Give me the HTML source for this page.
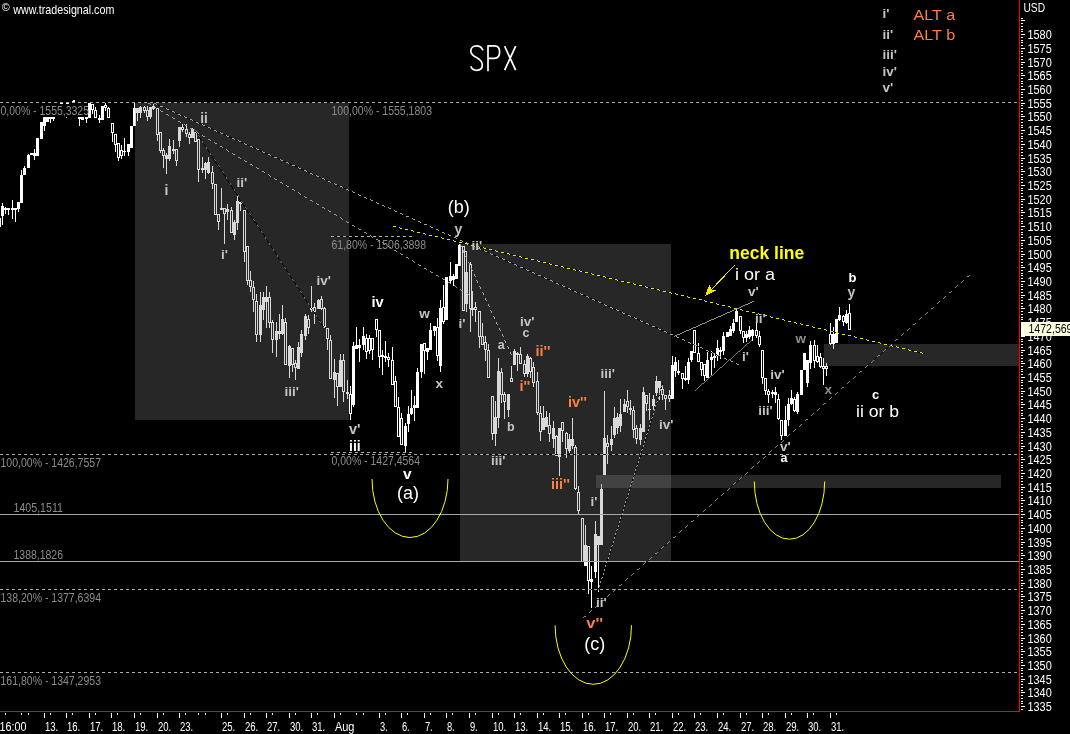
<!DOCTYPE html>
<html><head><meta charset="utf-8"><title>SPX</title>
<style>html,body{margin:0;padding:0;background:#000;overflow:hidden}svg{display:block;will-change:transform}text{font-family:"Liberation Sans", sans-serif}</style></head>
<body>
<svg width="1070" height="734" viewBox="0 0 1070 734">
<rect x="0" y="0" width="1070" height="734" fill="#000"/>
<g id="candles" shape-rendering="crispEdges">
<rect x="-2" y="218" width="3" height="9" fill="#fff"/>
<rect x="2" y="203" width="1" height="22" fill="#fff"/>
<rect x="1" y="206" width="3" height="10" fill="#fff"/>
<rect x="5" y="207" width="1" height="7" fill="#fff"/>
<rect x="4" y="208" width="3" height="2" fill="#fff"/>
<rect x="8" y="208" width="1" height="7" fill="#fff"/>
<rect x="7" y="208" width="3" height="2" fill="#fff"/>
<rect x="12" y="200" width="1" height="19" fill="#fff"/>
<rect x="11" y="208" width="3" height="2" fill="#fff"/>
<rect x="15" y="208" width="1" height="14" fill="#fff"/>
<rect x="14" y="208" width="3" height="2" fill="#fff"/>
<rect x="18" y="202" width="1" height="10" fill="#fff"/>
<rect x="17" y="202" width="3" height="7" fill="#fff"/>
<rect x="21" y="170" width="1" height="33" fill="#fff"/>
<rect x="20" y="175" width="3" height="28" fill="#fff"/>
<rect x="24" y="166" width="1" height="9" fill="#fff"/>
<rect x="23" y="168" width="3" height="7" fill="#fff"/>
<rect x="28" y="154" width="1" height="14" fill="#fff"/>
<rect x="27" y="155" width="3" height="13" fill="#fff"/>
<rect x="30" y="153" width="3" height="2" fill="#fff"/>
<rect x="34" y="149" width="1" height="11" fill="#fff"/>
<rect x="33" y="153" width="3" height="3" fill="#fff"/>
<rect x="36" y="138" width="3" height="18" fill="#fff"/>
<rect x="40" y="122" width="3" height="17" fill="#fff"/>
<rect x="44" y="117" width="1" height="14" fill="#fff"/>
<rect x="43" y="117" width="3" height="9" fill="#fff"/>
<rect x="46" y="117" width="3" height="5" fill="#fff"/>
<rect x="50" y="117" width="1" height="6" fill="#fff"/>
<rect x="49" y="117" width="3" height="2" fill="#fff"/>
<rect x="53" y="117" width="1" height="4" fill="#fff"/>
<rect x="52" y="117" width="3" height="2" fill="#fff"/>
<rect x="79" y="117" width="1" height="9" fill="#fff"/>
<rect x="78" y="117" width="3" height="2" fill="#fff"/>
<rect x="81" y="117" width="3" height="3" fill="#fff"/>
<rect x="86" y="117" width="1" height="6" fill="#fff"/>
<rect x="85" y="117" width="3" height="2" fill="#fff"/>
<rect x="88" y="103" width="3" height="15" fill="#fff"/>
<rect x="92" y="104" width="1" height="10" fill="#fff"/>
<rect x="91" y="104" width="3" height="6" fill="#fff"/>
<rect x="92" y="105" width="1" height="4" fill="#000"/>
<rect x="95" y="107" width="1" height="11" fill="#fff"/>
<rect x="94" y="110" width="3" height="8" fill="#fff"/>
<rect x="95" y="111" width="1" height="6" fill="#000"/>
<rect x="99" y="115" width="1" height="8" fill="#fff"/>
<rect x="98" y="118" width="3" height="2" fill="#fff"/>
<rect x="101" y="106" width="3" height="14" fill="#fff"/>
<rect x="105" y="103" width="1" height="8" fill="#fff"/>
<rect x="104" y="105" width="3" height="3" fill="#fff"/>
<rect x="105" y="106" width="1" height="1" fill="#000"/>
<rect x="108" y="107" width="1" height="11" fill="#fff"/>
<rect x="107" y="108" width="3" height="10" fill="#fff"/>
<rect x="108" y="109" width="1" height="8" fill="#000"/>
<rect x="112" y="123" width="1" height="19" fill="#fff"/>
<rect x="111" y="123" width="3" height="10" fill="#fff"/>
<rect x="112" y="124" width="1" height="8" fill="#000"/>
<rect x="115" y="134" width="1" height="18" fill="#fff"/>
<rect x="114" y="134" width="3" height="11" fill="#fff"/>
<rect x="115" y="135" width="1" height="9" fill="#000"/>
<rect x="118" y="143" width="1" height="18" fill="#fff"/>
<rect x="117" y="143" width="3" height="15" fill="#fff"/>
<rect x="118" y="144" width="1" height="13" fill="#000"/>
<rect x="121" y="145" width="1" height="14" fill="#fff"/>
<rect x="120" y="150" width="3" height="6" fill="#fff"/>
<rect x="121" y="151" width="1" height="4" fill="#000"/>
<rect x="124" y="138" width="1" height="18" fill="#fff"/>
<rect x="123" y="151" width="3" height="1" fill="#fff"/>
<rect x="128" y="144" width="1" height="12" fill="#fff"/>
<rect x="127" y="144" width="3" height="8" fill="#fff"/>
<rect x="130" y="126" width="3" height="22" fill="#fff"/>
<rect x="134" y="103" width="1" height="23" fill="#fff"/>
<rect x="133" y="108" width="3" height="18" fill="#fff"/>
<rect x="137" y="108" width="1" height="13" fill="#fff"/>
<rect x="136" y="108" width="3" height="5" fill="#fff"/>
<rect x="140" y="106" width="1" height="12" fill="#fff"/>
<rect x="139" y="107" width="3" height="6" fill="#fff"/>
<rect x="144" y="106" width="1" height="7" fill="#fff"/>
<rect x="143" y="107" width="3" height="4" fill="#fff"/>
<rect x="144" y="108" width="1" height="2" fill="#000"/>
<rect x="147" y="106" width="1" height="15" fill="#fff"/>
<rect x="146" y="110" width="3" height="7" fill="#fff"/>
<rect x="147" y="111" width="1" height="5" fill="#000"/>
<rect x="150" y="107" width="1" height="12" fill="#fff"/>
<rect x="149" y="107" width="3" height="10" fill="#fff"/>
<rect x="153" y="104" width="1" height="6" fill="#fff"/>
<rect x="152" y="106" width="3" height="3" fill="#fff"/>
<rect x="157" y="108" width="1" height="33" fill="#fff"/>
<rect x="156" y="108" width="3" height="27" fill="#fff"/>
<rect x="157" y="109" width="1" height="25" fill="#000"/>
<rect x="160" y="132" width="1" height="21" fill="#fff"/>
<rect x="159" y="132" width="3" height="19" fill="#fff"/>
<rect x="160" y="133" width="1" height="17" fill="#000"/>
<rect x="163" y="148" width="1" height="20" fill="#fff"/>
<rect x="162" y="150" width="3" height="6" fill="#fff"/>
<rect x="163" y="151" width="1" height="4" fill="#000"/>
<rect x="166" y="153" width="1" height="21" fill="#fff"/>
<rect x="165" y="155" width="3" height="4" fill="#fff"/>
<rect x="169" y="139" width="1" height="22" fill="#fff"/>
<rect x="168" y="146" width="3" height="13" fill="#fff"/>
<rect x="173" y="140" width="1" height="14" fill="#fff"/>
<rect x="172" y="149" width="3" height="2" fill="#fff"/>
<rect x="176" y="149" width="1" height="17" fill="#fff"/>
<rect x="175" y="149" width="3" height="12" fill="#fff"/>
<rect x="176" y="150" width="1" height="10" fill="#000"/>
<rect x="179" y="127" width="1" height="20" fill="#fff"/>
<rect x="178" y="127" width="3" height="14" fill="#fff"/>
<rect x="182" y="124" width="1" height="8" fill="#fff"/>
<rect x="181" y="127" width="3" height="3" fill="#fff"/>
<rect x="182" y="128" width="1" height="1" fill="#000"/>
<rect x="186" y="124" width="1" height="13" fill="#fff"/>
<rect x="185" y="129" width="3" height="5" fill="#fff"/>
<rect x="186" y="130" width="1" height="3" fill="#000"/>
<rect x="189" y="132" width="1" height="12" fill="#fff"/>
<rect x="188" y="134" width="3" height="4" fill="#fff"/>
<rect x="189" y="135" width="1" height="2" fill="#000"/>
<rect x="192" y="128" width="1" height="10" fill="#fff"/>
<rect x="191" y="129" width="3" height="9" fill="#fff"/>
<rect x="194" y="132" width="3" height="10" fill="#fff"/>
<rect x="195" y="133" width="1" height="8" fill="#000"/>
<rect x="198" y="139" width="1" height="43" fill="#fff"/>
<rect x="197" y="139" width="3" height="31" fill="#fff"/>
<rect x="198" y="140" width="1" height="29" fill="#000"/>
<rect x="202" y="157" width="1" height="16" fill="#fff"/>
<rect x="201" y="168" width="3" height="2" fill="#fff"/>
<rect x="205" y="162" width="1" height="17" fill="#fff"/>
<rect x="204" y="163" width="3" height="7" fill="#fff"/>
<rect x="208" y="157" width="1" height="17" fill="#fff"/>
<rect x="207" y="162" width="3" height="11" fill="#fff"/>
<rect x="212" y="166" width="1" height="23" fill="#fff"/>
<rect x="211" y="172" width="3" height="12" fill="#fff"/>
<rect x="212" y="173" width="1" height="10" fill="#000"/>
<rect x="214" y="184" width="3" height="31" fill="#fff"/>
<rect x="215" y="185" width="1" height="29" fill="#000"/>
<rect x="218" y="214" width="1" height="16" fill="#fff"/>
<rect x="217" y="214" width="3" height="8" fill="#fff"/>
<rect x="218" y="215" width="1" height="6" fill="#000"/>
<rect x="221" y="188" width="1" height="22" fill="#fff"/>
<rect x="220" y="208" width="3" height="2" fill="#fff"/>
<rect x="224" y="208" width="1" height="36" fill="#fff"/>
<rect x="223" y="208" width="3" height="6" fill="#fff"/>
<rect x="224" y="209" width="1" height="4" fill="#000"/>
<rect x="227" y="204" width="1" height="16" fill="#fff"/>
<rect x="226" y="209" width="3" height="3" fill="#fff"/>
<rect x="231" y="207" width="1" height="26" fill="#fff"/>
<rect x="230" y="210" width="3" height="23" fill="#fff"/>
<rect x="231" y="211" width="1" height="21" fill="#000"/>
<rect x="234" y="220" width="1" height="20" fill="#fff"/>
<rect x="233" y="222" width="3" height="13" fill="#fff"/>
<rect x="237" y="195" width="1" height="35" fill="#fff"/>
<rect x="236" y="201" width="3" height="22" fill="#fff"/>
<rect x="240" y="202" width="1" height="9" fill="#fff"/>
<rect x="239" y="202" width="3" height="2" fill="#fff"/>
<rect x="244" y="210" width="1" height="52" fill="#fff"/>
<rect x="243" y="210" width="3" height="42" fill="#fff"/>
<rect x="244" y="211" width="1" height="40" fill="#000"/>
<rect x="247" y="246" width="1" height="39" fill="#fff"/>
<rect x="246" y="246" width="3" height="35" fill="#fff"/>
<rect x="247" y="247" width="1" height="33" fill="#000"/>
<rect x="250" y="271" width="1" height="21" fill="#fff"/>
<rect x="249" y="280" width="3" height="7" fill="#fff"/>
<rect x="250" y="281" width="1" height="5" fill="#000"/>
<rect x="253" y="281" width="1" height="31" fill="#fff"/>
<rect x="252" y="287" width="3" height="13" fill="#fff"/>
<rect x="253" y="288" width="1" height="11" fill="#000"/>
<rect x="256" y="294" width="1" height="48" fill="#fff"/>
<rect x="255" y="301" width="3" height="34" fill="#fff"/>
<rect x="256" y="302" width="1" height="32" fill="#000"/>
<rect x="260" y="292" width="1" height="50" fill="#fff"/>
<rect x="259" y="305" width="3" height="30" fill="#fff"/>
<rect x="263" y="292" width="1" height="28" fill="#fff"/>
<rect x="262" y="297" width="3" height="13" fill="#fff"/>
<rect x="266" y="286" width="1" height="42" fill="#fff"/>
<rect x="265" y="297" width="3" height="5" fill="#fff"/>
<rect x="269" y="292" width="1" height="36" fill="#fff"/>
<rect x="268" y="297" width="3" height="26" fill="#fff"/>
<rect x="269" y="298" width="1" height="24" fill="#000"/>
<rect x="272" y="320" width="1" height="33" fill="#fff"/>
<rect x="271" y="322" width="3" height="18" fill="#fff"/>
<rect x="272" y="323" width="1" height="16" fill="#000"/>
<rect x="276" y="322" width="1" height="35" fill="#fff"/>
<rect x="275" y="331" width="3" height="9" fill="#fff"/>
<rect x="279" y="314" width="1" height="25" fill="#fff"/>
<rect x="278" y="331" width="3" height="3" fill="#fff"/>
<rect x="282" y="305" width="1" height="30" fill="#fff"/>
<rect x="281" y="319" width="3" height="15" fill="#fff"/>
<rect x="285" y="318" width="1" height="47" fill="#fff"/>
<rect x="284" y="322" width="3" height="43" fill="#fff"/>
<rect x="285" y="323" width="1" height="41" fill="#000"/>
<rect x="289" y="345" width="1" height="33" fill="#fff"/>
<rect x="288" y="346" width="3" height="20" fill="#fff"/>
<rect x="292" y="348" width="1" height="24" fill="#fff"/>
<rect x="291" y="348" width="3" height="17" fill="#fff"/>
<rect x="292" y="349" width="1" height="15" fill="#000"/>
<rect x="295" y="360" width="1" height="20" fill="#fff"/>
<rect x="294" y="363" width="3" height="5" fill="#fff"/>
<rect x="295" y="364" width="1" height="3" fill="#000"/>
<rect x="298" y="342" width="1" height="27" fill="#fff"/>
<rect x="297" y="347" width="3" height="22" fill="#fff"/>
<rect x="301" y="330" width="1" height="27" fill="#fff"/>
<rect x="300" y="334" width="3" height="19" fill="#fff"/>
<rect x="305" y="314" width="1" height="26" fill="#fff"/>
<rect x="304" y="316" width="3" height="20" fill="#fff"/>
<rect x="308" y="315" width="1" height="19" fill="#fff"/>
<rect x="307" y="319" width="3" height="9" fill="#fff"/>
<rect x="308" y="320" width="1" height="7" fill="#000"/>
<rect x="311" y="286" width="1" height="26" fill="#fff"/>
<rect x="310" y="308" width="3" height="2" fill="#fff"/>
<rect x="314" y="303" width="1" height="21" fill="#fff"/>
<rect x="313" y="307" width="3" height="5" fill="#fff"/>
<rect x="314" y="308" width="1" height="3" fill="#000"/>
<rect x="318" y="299" width="1" height="10" fill="#fff"/>
<rect x="317" y="300" width="3" height="9" fill="#fff"/>
<rect x="321" y="296" width="1" height="14" fill="#fff"/>
<rect x="320" y="299" width="3" height="10" fill="#fff"/>
<rect x="321" y="300" width="1" height="8" fill="#000"/>
<rect x="324" y="307" width="1" height="21" fill="#fff"/>
<rect x="323" y="308" width="3" height="19" fill="#fff"/>
<rect x="324" y="309" width="1" height="17" fill="#000"/>
<rect x="327" y="328" width="1" height="22" fill="#fff"/>
<rect x="326" y="328" width="3" height="11" fill="#fff"/>
<rect x="327" y="329" width="1" height="9" fill="#000"/>
<rect x="330" y="335" width="1" height="44" fill="#fff"/>
<rect x="329" y="340" width="3" height="39" fill="#fff"/>
<rect x="330" y="341" width="1" height="37" fill="#000"/>
<rect x="334" y="359" width="1" height="39" fill="#fff"/>
<rect x="333" y="372" width="3" height="8" fill="#fff"/>
<rect x="337" y="373" width="1" height="33" fill="#fff"/>
<rect x="336" y="373" width="3" height="14" fill="#fff"/>
<rect x="337" y="374" width="1" height="12" fill="#000"/>
<rect x="340" y="354" width="1" height="33" fill="#fff"/>
<rect x="339" y="360" width="3" height="27" fill="#fff"/>
<rect x="343" y="354" width="1" height="48" fill="#fff"/>
<rect x="342" y="360" width="3" height="32" fill="#fff"/>
<rect x="343" y="361" width="1" height="30" fill="#000"/>
<rect x="347" y="380" width="1" height="19" fill="#fff"/>
<rect x="346" y="392" width="3" height="2" fill="#fff"/>
<rect x="350" y="386" width="1" height="34" fill="#fff"/>
<rect x="349" y="394" width="3" height="20" fill="#fff"/>
<rect x="350" y="395" width="1" height="18" fill="#000"/>
<rect x="353" y="342" width="1" height="65" fill="#fff"/>
<rect x="352" y="346" width="3" height="59" fill="#fff"/>
<rect x="356" y="327" width="1" height="22" fill="#fff"/>
<rect x="355" y="345" width="3" height="4" fill="#fff"/>
<rect x="359" y="339" width="1" height="23" fill="#fff"/>
<rect x="358" y="345" width="3" height="3" fill="#fff"/>
<rect x="363" y="327" width="1" height="23" fill="#fff"/>
<rect x="362" y="336" width="3" height="9" fill="#fff"/>
<rect x="366" y="334" width="1" height="25" fill="#fff"/>
<rect x="365" y="338" width="3" height="14" fill="#fff"/>
<rect x="366" y="339" width="1" height="12" fill="#000"/>
<rect x="369" y="335" width="1" height="19" fill="#fff"/>
<rect x="368" y="338" width="3" height="13" fill="#fff"/>
<rect x="369" y="339" width="1" height="11" fill="#000"/>
<rect x="372" y="338" width="1" height="22" fill="#fff"/>
<rect x="371" y="338" width="3" height="12" fill="#fff"/>
<rect x="372" y="339" width="1" height="10" fill="#000"/>
<rect x="376" y="319" width="1" height="18" fill="#fff"/>
<rect x="375" y="319" width="3" height="11" fill="#fff"/>
<rect x="376" y="320" width="1" height="9" fill="#000"/>
<rect x="379" y="330" width="1" height="38" fill="#fff"/>
<rect x="378" y="330" width="3" height="27" fill="#fff"/>
<rect x="379" y="331" width="1" height="25" fill="#000"/>
<rect x="382" y="350" width="1" height="25" fill="#fff"/>
<rect x="381" y="355" width="3" height="2" fill="#fff"/>
<rect x="385" y="341" width="1" height="21" fill="#fff"/>
<rect x="384" y="356" width="3" height="2" fill="#fff"/>
<rect x="388" y="353" width="1" height="14" fill="#fff"/>
<rect x="387" y="357" width="3" height="3" fill="#fff"/>
<rect x="388" y="358" width="1" height="1" fill="#000"/>
<rect x="392" y="347" width="1" height="38" fill="#fff"/>
<rect x="391" y="360" width="3" height="25" fill="#fff"/>
<rect x="392" y="361" width="1" height="23" fill="#000"/>
<rect x="395" y="376" width="1" height="31" fill="#fff"/>
<rect x="394" y="381" width="3" height="26" fill="#fff"/>
<rect x="395" y="382" width="1" height="24" fill="#000"/>
<rect x="398" y="397" width="1" height="40" fill="#fff"/>
<rect x="397" y="407" width="3" height="30" fill="#fff"/>
<rect x="398" y="408" width="1" height="28" fill="#000"/>
<rect x="401" y="413" width="1" height="32" fill="#fff"/>
<rect x="400" y="418" width="3" height="27" fill="#fff"/>
<rect x="401" y="419" width="1" height="25" fill="#000"/>
<rect x="405" y="423" width="1" height="30" fill="#fff"/>
<rect x="404" y="426" width="3" height="20" fill="#fff"/>
<rect x="408" y="406" width="1" height="26" fill="#fff"/>
<rect x="407" y="414" width="3" height="10" fill="#fff"/>
<rect x="411" y="390" width="1" height="25" fill="#fff"/>
<rect x="410" y="408" width="3" height="6" fill="#fff"/>
<rect x="414" y="396" width="1" height="25" fill="#fff"/>
<rect x="413" y="405" width="3" height="3" fill="#fff"/>
<rect x="417" y="368" width="1" height="40" fill="#fff"/>
<rect x="416" y="372" width="3" height="36" fill="#fff"/>
<rect x="421" y="344" width="1" height="34" fill="#fff"/>
<rect x="420" y="344" width="3" height="28" fill="#fff"/>
<rect x="424" y="343" width="1" height="31" fill="#fff"/>
<rect x="423" y="343" width="3" height="8" fill="#fff"/>
<rect x="424" y="344" width="1" height="6" fill="#000"/>
<rect x="427" y="348" width="1" height="12" fill="#fff"/>
<rect x="426" y="348" width="3" height="4" fill="#fff"/>
<rect x="430" y="323" width="1" height="27" fill="#fff"/>
<rect x="429" y="330" width="3" height="20" fill="#fff"/>
<rect x="434" y="326" width="1" height="10" fill="#fff"/>
<rect x="433" y="326" width="3" height="5" fill="#fff"/>
<rect x="437" y="318" width="1" height="43" fill="#fff"/>
<rect x="436" y="327" width="3" height="29" fill="#fff"/>
<rect x="437" y="328" width="1" height="27" fill="#000"/>
<rect x="440" y="300" width="1" height="72" fill="#fff"/>
<rect x="439" y="308" width="3" height="58" fill="#fff"/>
<rect x="443" y="285" width="1" height="39" fill="#fff"/>
<rect x="442" y="307" width="3" height="15" fill="#fff"/>
<rect x="443" y="308" width="1" height="13" fill="#000"/>
<rect x="445" y="277" width="3" height="43" fill="#fff"/>
<rect x="450" y="262" width="1" height="22" fill="#fff"/>
<rect x="449" y="276" width="3" height="5" fill="#fff"/>
<rect x="453" y="274" width="1" height="12" fill="#fff"/>
<rect x="452" y="276" width="3" height="4" fill="#fff"/>
<rect x="455" y="264" width="3" height="15" fill="#fff"/>
<rect x="459" y="244" width="1" height="22" fill="#fff"/>
<rect x="458" y="245" width="3" height="21" fill="#fff"/>
<rect x="462" y="246" width="3" height="65" fill="#fff"/>
<rect x="463" y="247" width="1" height="63" fill="#000"/>
<rect x="466" y="251" width="1" height="61" fill="#fff"/>
<rect x="465" y="272" width="3" height="32" fill="#fff"/>
<rect x="464" y="251" width="3" height="22" fill="#fff"/>
<rect x="465" y="252" width="1" height="20" fill="#000"/>
<rect x="470" y="262" width="1" height="70" fill="#fff"/>
<rect x="469" y="264" width="3" height="45" fill="#fff"/>
<rect x="470" y="265" width="1" height="43" fill="#000"/>
<rect x="472" y="291" width="1" height="25" fill="#fff"/>
<rect x="471" y="308" width="3" height="2" fill="#fff"/>
<rect x="475" y="302" width="1" height="20" fill="#fff"/>
<rect x="474" y="307" width="3" height="3" fill="#fff"/>
<rect x="475" y="308" width="1" height="1" fill="#000"/>
<rect x="479" y="311" width="1" height="37" fill="#fff"/>
<rect x="478" y="311" width="3" height="26" fill="#fff"/>
<rect x="479" y="312" width="1" height="24" fill="#000"/>
<rect x="482" y="323" width="1" height="22" fill="#fff"/>
<rect x="481" y="336" width="3" height="9" fill="#fff"/>
<rect x="482" y="337" width="1" height="7" fill="#000"/>
<rect x="485" y="336" width="1" height="25" fill="#fff"/>
<rect x="484" y="342" width="3" height="8" fill="#fff"/>
<rect x="485" y="343" width="1" height="6" fill="#000"/>
<rect x="488" y="344" width="1" height="34" fill="#fff"/>
<rect x="487" y="350" width="3" height="28" fill="#fff"/>
<rect x="488" y="351" width="1" height="26" fill="#000"/>
<rect x="492" y="396" width="1" height="44" fill="#fff"/>
<rect x="491" y="396" width="3" height="38" fill="#fff"/>
<rect x="492" y="397" width="1" height="36" fill="#000"/>
<rect x="495" y="401" width="1" height="45" fill="#fff"/>
<rect x="494" y="417" width="3" height="17" fill="#fff"/>
<rect x="498" y="358" width="1" height="70" fill="#fff"/>
<rect x="497" y="371" width="3" height="47" fill="#fff"/>
<rect x="501" y="368" width="1" height="35" fill="#fff"/>
<rect x="500" y="372" width="3" height="23" fill="#fff"/>
<rect x="501" y="373" width="1" height="21" fill="#000"/>
<rect x="504" y="392" width="1" height="27" fill="#fff"/>
<rect x="503" y="394" width="3" height="8" fill="#fff"/>
<rect x="504" y="395" width="1" height="6" fill="#000"/>
<rect x="508" y="394" width="1" height="23" fill="#fff"/>
<rect x="507" y="394" width="3" height="16" fill="#fff"/>
<rect x="511" y="366" width="1" height="16" fill="#fff"/>
<rect x="510" y="378" width="3" height="4" fill="#fff"/>
<rect x="511" y="379" width="1" height="2" fill="#000"/>
<rect x="514" y="349" width="1" height="16" fill="#fff"/>
<rect x="513" y="351" width="3" height="14" fill="#fff"/>
<rect x="517" y="352" width="1" height="19" fill="#fff"/>
<rect x="516" y="353" width="3" height="2" fill="#fff"/>
<rect x="520" y="347" width="1" height="17" fill="#fff"/>
<rect x="519" y="354" width="3" height="10" fill="#fff"/>
<rect x="520" y="355" width="1" height="8" fill="#000"/>
<rect x="524" y="360" width="1" height="17" fill="#fff"/>
<rect x="523" y="364" width="3" height="10" fill="#fff"/>
<rect x="524" y="365" width="1" height="8" fill="#000"/>
<rect x="527" y="354" width="1" height="23" fill="#fff"/>
<rect x="526" y="356" width="3" height="18" fill="#fff"/>
<rect x="530" y="357" width="1" height="21" fill="#fff"/>
<rect x="529" y="358" width="3" height="14" fill="#fff"/>
<rect x="530" y="359" width="1" height="12" fill="#000"/>
<rect x="533" y="362" width="1" height="25" fill="#fff"/>
<rect x="532" y="367" width="3" height="16" fill="#fff"/>
<rect x="533" y="368" width="1" height="14" fill="#000"/>
<rect x="537" y="372" width="1" height="43" fill="#fff"/>
<rect x="536" y="381" width="3" height="32" fill="#fff"/>
<rect x="537" y="382" width="1" height="30" fill="#000"/>
<rect x="540" y="406" width="1" height="35" fill="#fff"/>
<rect x="539" y="413" width="3" height="19" fill="#fff"/>
<rect x="540" y="414" width="1" height="17" fill="#000"/>
<rect x="543" y="406" width="1" height="24" fill="#fff"/>
<rect x="542" y="418" width="3" height="12" fill="#fff"/>
<rect x="546" y="411" width="1" height="16" fill="#fff"/>
<rect x="545" y="417" width="3" height="10" fill="#fff"/>
<rect x="549" y="413" width="1" height="29" fill="#fff"/>
<rect x="548" y="425" width="3" height="9" fill="#fff"/>
<rect x="549" y="426" width="1" height="7" fill="#000"/>
<rect x="553" y="421" width="1" height="27" fill="#fff"/>
<rect x="552" y="428" width="3" height="11" fill="#fff"/>
<rect x="556" y="435" width="1" height="21" fill="#fff"/>
<rect x="555" y="436" width="3" height="20" fill="#fff"/>
<rect x="556" y="437" width="1" height="18" fill="#000"/>
<rect x="559" y="428" width="1" height="48" fill="#fff"/>
<rect x="558" y="428" width="3" height="29" fill="#fff"/>
<rect x="562" y="422" width="1" height="20" fill="#fff"/>
<rect x="561" y="422" width="3" height="9" fill="#fff"/>
<rect x="562" y="423" width="1" height="7" fill="#000"/>
<rect x="566" y="432" width="1" height="26" fill="#fff"/>
<rect x="565" y="433" width="3" height="16" fill="#fff"/>
<rect x="566" y="434" width="1" height="14" fill="#000"/>
<rect x="569" y="434" width="1" height="19" fill="#fff"/>
<rect x="568" y="439" width="3" height="12" fill="#fff"/>
<rect x="572" y="418" width="1" height="31" fill="#fff"/>
<rect x="571" y="439" width="3" height="7" fill="#fff"/>
<rect x="575" y="445" width="1" height="45" fill="#fff"/>
<rect x="574" y="447" width="3" height="42" fill="#fff"/>
<rect x="575" y="448" width="1" height="40" fill="#000"/>
<rect x="578" y="486" width="1" height="28" fill="#fff"/>
<rect x="577" y="492" width="3" height="19" fill="#fff"/>
<rect x="578" y="493" width="1" height="17" fill="#000"/>
<rect x="581" y="518" width="3" height="44" fill="#fff"/>
<rect x="582" y="519" width="1" height="42" fill="#000"/>
<rect x="585" y="525" width="1" height="41" fill="#fff"/>
<rect x="584" y="545" width="3" height="21" fill="#fff"/>
<rect x="588" y="546" width="1" height="48" fill="#fff"/>
<rect x="587" y="546" width="3" height="35" fill="#fff"/>
<rect x="588" y="547" width="1" height="33" fill="#000"/>
<rect x="591" y="566" width="1" height="42" fill="#fff"/>
<rect x="590" y="579" width="3" height="3" fill="#fff"/>
<rect x="595" y="521" width="1" height="57" fill="#fff"/>
<rect x="594" y="534" width="3" height="38" fill="#fff"/>
<rect x="598" y="536" width="1" height="56" fill="#fff"/>
<rect x="597" y="536" width="3" height="9" fill="#fff"/>
<rect x="601" y="484" width="1" height="61" fill="#fff"/>
<rect x="600" y="489" width="3" height="56" fill="#fff"/>
<rect x="604" y="391" width="1" height="84" fill="#fff"/>
<rect x="603" y="438" width="3" height="37" fill="#fff"/>
<rect x="607" y="435" width="1" height="29" fill="#fff"/>
<rect x="606" y="443" width="3" height="4" fill="#fff"/>
<rect x="607" y="444" width="1" height="2" fill="#000"/>
<rect x="611" y="426" width="1" height="25" fill="#fff"/>
<rect x="610" y="439" width="3" height="6" fill="#fff"/>
<rect x="614" y="407" width="1" height="31" fill="#fff"/>
<rect x="613" y="418" width="3" height="17" fill="#fff"/>
<rect x="617" y="413" width="1" height="21" fill="#fff"/>
<rect x="616" y="417" width="3" height="11" fill="#fff"/>
<rect x="620" y="399" width="1" height="33" fill="#fff"/>
<rect x="619" y="414" width="3" height="12" fill="#fff"/>
<rect x="624" y="399" width="1" height="13" fill="#fff"/>
<rect x="623" y="404" width="3" height="8" fill="#fff"/>
<rect x="627" y="390" width="1" height="23" fill="#fff"/>
<rect x="626" y="401" width="3" height="6" fill="#fff"/>
<rect x="627" y="402" width="1" height="4" fill="#000"/>
<rect x="630" y="400" width="1" height="15" fill="#fff"/>
<rect x="629" y="408" width="3" height="2" fill="#fff"/>
<rect x="633" y="406" width="1" height="32" fill="#fff"/>
<rect x="632" y="410" width="3" height="20" fill="#fff"/>
<rect x="633" y="411" width="1" height="18" fill="#000"/>
<rect x="636" y="425" width="1" height="19" fill="#fff"/>
<rect x="635" y="428" width="3" height="11" fill="#fff"/>
<rect x="636" y="429" width="1" height="9" fill="#000"/>
<rect x="640" y="424" width="1" height="21" fill="#fff"/>
<rect x="639" y="428" width="3" height="12" fill="#fff"/>
<rect x="643" y="387" width="1" height="45" fill="#fff"/>
<rect x="642" y="392" width="3" height="40" fill="#fff"/>
<rect x="646" y="395" width="1" height="16" fill="#fff"/>
<rect x="645" y="395" width="3" height="9" fill="#fff"/>
<rect x="646" y="396" width="1" height="7" fill="#000"/>
<rect x="649" y="393" width="1" height="27" fill="#fff"/>
<rect x="648" y="409" width="3" height="1" fill="#fff"/>
<rect x="653" y="395" width="1" height="15" fill="#fff"/>
<rect x="652" y="399" width="3" height="7" fill="#fff"/>
<rect x="656" y="376" width="1" height="20" fill="#fff"/>
<rect x="655" y="381" width="3" height="12" fill="#fff"/>
<rect x="659" y="381" width="1" height="19" fill="#fff"/>
<rect x="658" y="381" width="3" height="7" fill="#fff"/>
<rect x="662" y="384" width="1" height="16" fill="#fff"/>
<rect x="661" y="389" width="3" height="6" fill="#fff"/>
<rect x="662" y="390" width="1" height="4" fill="#000"/>
<rect x="665" y="395" width="1" height="15" fill="#fff"/>
<rect x="664" y="395" width="3" height="4" fill="#fff"/>
<rect x="665" y="396" width="1" height="2" fill="#000"/>
<rect x="669" y="390" width="1" height="12" fill="#fff"/>
<rect x="668" y="395" width="3" height="4" fill="#fff"/>
<rect x="669" y="396" width="1" height="2" fill="#000"/>
<rect x="672" y="356" width="1" height="43" fill="#fff"/>
<rect x="671" y="365" width="3" height="34" fill="#fff"/>
<rect x="675" y="357" width="1" height="20" fill="#fff"/>
<rect x="674" y="362" width="3" height="9" fill="#fff"/>
<rect x="678" y="360" width="1" height="15" fill="#fff"/>
<rect x="677" y="371" width="3" height="2" fill="#fff"/>
<rect x="682" y="373" width="1" height="16" fill="#fff"/>
<rect x="681" y="373" width="3" height="6" fill="#fff"/>
<rect x="682" y="374" width="1" height="4" fill="#000"/>
<rect x="685" y="366" width="1" height="15" fill="#fff"/>
<rect x="684" y="378" width="3" height="2" fill="#fff"/>
<rect x="688" y="358" width="1" height="26" fill="#fff"/>
<rect x="687" y="362" width="3" height="18" fill="#fff"/>
<rect x="691" y="351" width="1" height="11" fill="#fff"/>
<rect x="690" y="351" width="3" height="9" fill="#fff"/>
<rect x="693" y="330" width="3" height="23" fill="#fff"/>
<rect x="694" y="331" width="1" height="21" fill="#000"/>
<rect x="698" y="343" width="1" height="19" fill="#fff"/>
<rect x="697" y="353" width="3" height="9" fill="#fff"/>
<rect x="698" y="354" width="1" height="7" fill="#000"/>
<rect x="701" y="362" width="1" height="14" fill="#fff"/>
<rect x="700" y="362" width="3" height="8" fill="#fff"/>
<rect x="701" y="363" width="1" height="6" fill="#000"/>
<rect x="704" y="364" width="1" height="17" fill="#fff"/>
<rect x="703" y="364" width="3" height="12" fill="#fff"/>
<rect x="704" y="365" width="1" height="10" fill="#000"/>
<rect x="707" y="352" width="1" height="26" fill="#fff"/>
<rect x="706" y="360" width="3" height="18" fill="#fff"/>
<rect x="711" y="351" width="1" height="24" fill="#fff"/>
<rect x="710" y="357" width="3" height="3" fill="#fff"/>
<rect x="714" y="354" width="1" height="14" fill="#fff"/>
<rect x="713" y="356" width="3" height="2" fill="#fff"/>
<rect x="717" y="340" width="1" height="21" fill="#fff"/>
<rect x="716" y="348" width="3" height="8" fill="#fff"/>
<rect x="720" y="347" width="1" height="12" fill="#fff"/>
<rect x="719" y="350" width="3" height="2" fill="#fff"/>
<rect x="723" y="332" width="1" height="23" fill="#fff"/>
<rect x="722" y="336" width="3" height="15" fill="#fff"/>
<rect x="726" y="332" width="3" height="5" fill="#fff"/>
<rect x="730" y="326" width="1" height="10" fill="#fff"/>
<rect x="729" y="329" width="3" height="7" fill="#fff"/>
<rect x="733" y="319" width="1" height="14" fill="#fff"/>
<rect x="732" y="323" width="3" height="8" fill="#fff"/>
<rect x="736" y="309" width="1" height="13" fill="#fff"/>
<rect x="735" y="311" width="3" height="11" fill="#fff"/>
<rect x="740" y="316" width="1" height="18" fill="#fff"/>
<rect x="739" y="316" width="3" height="15" fill="#fff"/>
<rect x="740" y="317" width="1" height="13" fill="#000"/>
<rect x="743" y="331" width="1" height="12" fill="#fff"/>
<rect x="742" y="331" width="3" height="7" fill="#fff"/>
<rect x="743" y="332" width="1" height="5" fill="#000"/>
<rect x="746" y="331" width="1" height="11" fill="#fff"/>
<rect x="745" y="334" width="3" height="4" fill="#fff"/>
<rect x="749" y="326" width="1" height="13" fill="#fff"/>
<rect x="748" y="330" width="3" height="7" fill="#fff"/>
<rect x="752" y="329" width="1" height="12" fill="#fff"/>
<rect x="751" y="330" width="3" height="6" fill="#fff"/>
<rect x="756" y="316" width="1" height="22" fill="#fff"/>
<rect x="755" y="330" width="3" height="6" fill="#fff"/>
<rect x="756" y="331" width="1" height="4" fill="#000"/>
<rect x="759" y="331" width="1" height="16" fill="#fff"/>
<rect x="758" y="336" width="3" height="9" fill="#fff"/>
<rect x="759" y="337" width="1" height="7" fill="#000"/>
<rect x="762" y="350" width="1" height="34" fill="#fff"/>
<rect x="761" y="350" width="3" height="28" fill="#fff"/>
<rect x="762" y="351" width="1" height="26" fill="#000"/>
<rect x="765" y="378" width="1" height="17" fill="#fff"/>
<rect x="764" y="378" width="3" height="13" fill="#fff"/>
<rect x="765" y="379" width="1" height="11" fill="#000"/>
<rect x="768" y="389" width="1" height="14" fill="#fff"/>
<rect x="767" y="391" width="3" height="4" fill="#fff"/>
<rect x="768" y="392" width="1" height="2" fill="#000"/>
<rect x="772" y="390" width="1" height="8" fill="#fff"/>
<rect x="771" y="392" width="3" height="2" fill="#fff"/>
<rect x="775" y="387" width="1" height="16" fill="#fff"/>
<rect x="774" y="392" width="3" height="3" fill="#fff"/>
<rect x="778" y="394" width="1" height="26" fill="#fff"/>
<rect x="777" y="399" width="3" height="20" fill="#fff"/>
<rect x="778" y="400" width="1" height="18" fill="#000"/>
<rect x="781" y="420" width="1" height="20" fill="#fff"/>
<rect x="780" y="420" width="3" height="16" fill="#fff"/>
<rect x="781" y="421" width="1" height="14" fill="#000"/>
<rect x="785" y="406" width="1" height="30" fill="#fff"/>
<rect x="784" y="420" width="3" height="16" fill="#fff"/>
<rect x="788" y="398" width="1" height="28" fill="#fff"/>
<rect x="787" y="404" width="3" height="16" fill="#fff"/>
<rect x="791" y="390" width="1" height="15" fill="#fff"/>
<rect x="790" y="398" width="3" height="6" fill="#fff"/>
<rect x="794" y="397" width="1" height="15" fill="#fff"/>
<rect x="793" y="399" width="3" height="12" fill="#fff"/>
<rect x="794" y="400" width="1" height="10" fill="#000"/>
<rect x="797" y="392" width="1" height="22" fill="#fff"/>
<rect x="796" y="394" width="3" height="18" fill="#fff"/>
<rect x="800" y="370" width="3" height="25" fill="#fff"/>
<rect x="803" y="353" width="3" height="17" fill="#fff"/>
<rect x="807" y="360" width="1" height="27" fill="#fff"/>
<rect x="806" y="360" width="3" height="23" fill="#fff"/>
<rect x="810" y="341" width="1" height="28" fill="#fff"/>
<rect x="809" y="345" width="3" height="18" fill="#fff"/>
<rect x="814" y="340" width="1" height="28" fill="#fff"/>
<rect x="813" y="345" width="3" height="16" fill="#fff"/>
<rect x="814" y="346" width="1" height="14" fill="#000"/>
<rect x="817" y="345" width="1" height="18" fill="#fff"/>
<rect x="816" y="356" width="3" height="6" fill="#fff"/>
<rect x="817" y="357" width="1" height="4" fill="#000"/>
<rect x="820" y="353" width="1" height="15" fill="#fff"/>
<rect x="819" y="357" width="3" height="10" fill="#fff"/>
<rect x="820" y="358" width="1" height="8" fill="#000"/>
<rect x="823" y="358" width="1" height="27" fill="#fff"/>
<rect x="822" y="366" width="3" height="3" fill="#fff"/>
<rect x="823" y="367" width="1" height="1" fill="#000"/>
<rect x="826" y="363" width="1" height="13" fill="#fff"/>
<rect x="825" y="366" width="3" height="3" fill="#fff"/>
<rect x="826" y="367" width="1" height="1" fill="#000"/>
<rect x="830" y="323" width="1" height="22" fill="#fff"/>
<rect x="829" y="334" width="3" height="10" fill="#fff"/>
<rect x="830" y="335" width="1" height="8" fill="#000"/>
<rect x="833" y="327" width="1" height="22" fill="#fff"/>
<rect x="832" y="334" width="3" height="10" fill="#fff"/>
<rect x="835" y="319" width="3" height="24" fill="#fff"/>
<rect x="839" y="307" width="1" height="14" fill="#fff"/>
<rect x="838" y="315" width="3" height="5" fill="#fff"/>
<rect x="843" y="315" width="1" height="11" fill="#fff"/>
<rect x="842" y="316" width="3" height="6" fill="#fff"/>
<rect x="843" y="317" width="1" height="4" fill="#000"/>
<rect x="846" y="310" width="1" height="14" fill="#fff"/>
<rect x="845" y="314" width="3" height="9" fill="#fff"/>
<rect x="849" y="304" width="1" height="26" fill="#fff"/>
<rect x="848" y="313" width="3" height="17" fill="#fff"/>
<rect x="849" y="314" width="1" height="15" fill="#000"/>
<path d="M60 103 H62 V102 H66 V103 H69 M69 102 H72 V101 H73 V100 H74 V102 H75" fill="none" stroke="#fff" stroke-width="1"/>
<rect x="66" y="117" width="1" height="1" fill="#fff"/>
</g>
<g id="boxes" shape-rendering="crispEdges">
<rect x="135" y="103" width="214" height="317" fill="rgb(128,128,128)" fill-opacity="0.30"/>
<rect x="460" y="244" width="211" height="317" fill="rgb(128,128,128)" fill-opacity="0.30"/>
<rect x="824" y="344" width="195" height="22" fill="rgb(128,128,128)" fill-opacity="0.30"/>
<rect x="596" y="475" width="405" height="13" fill="rgb(128,128,128)" fill-opacity="0.30"/>
</g>
<g id="levels" shape-rendering="crispEdges" fill="none">
<line x1="0" y1="102.5" x2="1019" y2="102.5" stroke="#000" stroke-width="1"/>
<line x1="0" y1="102.5" x2="1019" y2="102.5" stroke="#acacac" stroke-width="1" stroke-dasharray="3 3"/>
<line x1="0" y1="454.5" x2="1019" y2="454.5" stroke="#000" stroke-width="1"/>
<line x1="0" y1="454.5" x2="1019" y2="454.5" stroke="#acacac" stroke-width="1" stroke-dasharray="3 3"/>
<line x1="0" y1="589.5" x2="1019" y2="589.5" stroke="#000" stroke-width="1"/>
<line x1="0" y1="589.5" x2="1019" y2="589.5" stroke="#acacac" stroke-width="1" stroke-dasharray="3 3"/>
<line x1="0" y1="672.5" x2="1019" y2="672.5" stroke="#000" stroke-width="1"/>
<line x1="0" y1="672.5" x2="1019" y2="672.5" stroke="#acacac" stroke-width="1" stroke-dasharray="3 3"/>
<line x1="331" y1="236.5" x2="412" y2="236.5" stroke="#000" stroke-width="1"/>
<line x1="331" y1="236.5" x2="412" y2="236.5" stroke="#acacac" stroke-width="1" stroke-dasharray="3 3"/>
<line x1="331" y1="452.5" x2="412" y2="452.5" stroke="#000" stroke-width="1"/>
<line x1="331" y1="452.5" x2="412" y2="452.5" stroke="#acacac" stroke-width="1" stroke-dasharray="3 3"/>
<line x1="0" y1="514.5" x2="1019" y2="514.5" stroke="#a8a8a8" stroke-width="1"/>
<line x1="0" y1="561.5" x2="1019" y2="561.5" stroke="#a8a8a8" stroke-width="1"/>
</g>
<g id="trend" fill="none" shape-rendering="crispEdges">
<line x1="153.6" y1="103.0" x2="739.0" y2="364.7" stroke="#000" stroke-width="0.913"/>
<line x1="153.6" y1="103.0" x2="739.0" y2="364.7" stroke="#b0b0b0" stroke-width="0.913" stroke-dasharray="3.29 3.29"/>
<line x1="148.0" y1="103.0" x2="472.0" y2="296.4" stroke="#b0b0b0" stroke-width="0.859" stroke-dasharray="3.49 3.49"/>
<line x1="194.5" y1="128.5" x2="324.0" y2="327.8" stroke="#000" stroke-width="0.839"/>
<line x1="194.5" y1="128.5" x2="324.0" y2="327.8" stroke="#7a7a7a" stroke-width="0.839" stroke-dasharray="2.39 4.77"/>
<line x1="460.0" y1="244.0" x2="513.0" y2="358.0" stroke="#b0b0b0" stroke-width="0.907" stroke-dasharray="3.31 3.31"/>
<line x1="393.0" y1="226.3" x2="925.0" y2="353.8" stroke="#000" stroke-width="0.972"/>
<line x1="393.0" y1="226.3" x2="925.0" y2="353.8" stroke="#f0e800" stroke-width="0.972" stroke-dasharray="3.08 3.08"/>
<line x1="598.0" y1="591.0" x2="663.0" y2="383.0" stroke="#000" stroke-width="0.954"/>
<line x1="598.0" y1="591.0" x2="663.0" y2="383.0" stroke="#9a9a9a" stroke-width="0.954" stroke-dasharray="2.10 2.10"/>
<line x1="583.0" y1="618.3" x2="972.0" y2="273.0" stroke="#000" stroke-width="0.748"/>
<line x1="583.0" y1="618.3" x2="972.0" y2="273.0" stroke="#b0b0b0" stroke-width="0.748" stroke-dasharray="4.01 4.01"/>
<line x1="673.6" y1="336.7" x2="753.7" y2="301.4" stroke="#a0a0a0" stroke-width="0.915"/>
<line x1="695.2" y1="390.5" x2="752.4" y2="339.6" stroke="#a0a0a0" stroke-width="0.747"/>
</g>
<g id="arcs" fill="none" stroke="#ffff00" stroke-width="1">
<path d="M372.0 479.0 A38.0 58.5 0 0 0 448.0 479.0"/>
<path d="M555.1 625.3 A38.2 59.0 0 0 0 631.5 625.3"/>
<path d="M754.3 481.5 A35.2 57.7 0 0 0 824.7 481.5"/>
</g>
<g id="arrow" shape-rendering="crispEdges"><line x1="734.6" y1="265.2" x2="711" y2="290" stroke="#f0e800" stroke-width="1"/><path d="M705.1 295.8 L709.3 284.8 L711.6 289.3 L716 290.4 Z" fill="#f0e800"/></g>
<g id="axes" shape-rendering="crispEdges">
<rect x="1019" y="0" width="1" height="712" fill="#ff0000"/>
<rect x="0" y="711" width="1020" height="1" fill="#ff0000"/>
<rect x="1021" y="18" width="2" height="1" fill="#fff"/>
<rect x="1021" y="20" width="4" height="1" fill="#fff"/>
<rect x="1021" y="23" width="2" height="1" fill="#fff"/>
<rect x="1021" y="26" width="2" height="1" fill="#fff"/>
<rect x="1021" y="29" width="2" height="1" fill="#fff"/>
<rect x="1021" y="31" width="2" height="1" fill="#fff"/>
<rect x="1021" y="34" width="4" height="1" fill="#fff"/>
<rect x="1021" y="37" width="2" height="1" fill="#fff"/>
<rect x="1021" y="40" width="2" height="1" fill="#fff"/>
<rect x="1021" y="42" width="2" height="1" fill="#fff"/>
<rect x="1021" y="45" width="2" height="1" fill="#fff"/>
<rect x="1021" y="48" width="4" height="1" fill="#fff"/>
<rect x="1021" y="51" width="2" height="1" fill="#fff"/>
<rect x="1021" y="53" width="2" height="1" fill="#fff"/>
<rect x="1021" y="56" width="2" height="1" fill="#fff"/>
<rect x="1021" y="59" width="2" height="1" fill="#fff"/>
<rect x="1021" y="62" width="4" height="1" fill="#fff"/>
<rect x="1021" y="64" width="2" height="1" fill="#fff"/>
<rect x="1021" y="67" width="2" height="1" fill="#fff"/>
<rect x="1021" y="70" width="2" height="1" fill="#fff"/>
<rect x="1021" y="73" width="2" height="1" fill="#fff"/>
<rect x="1021" y="75" width="4" height="1" fill="#fff"/>
<rect x="1021" y="78" width="2" height="1" fill="#fff"/>
<rect x="1021" y="81" width="2" height="1" fill="#fff"/>
<rect x="1021" y="83" width="2" height="1" fill="#fff"/>
<rect x="1021" y="86" width="2" height="1" fill="#fff"/>
<rect x="1021" y="89" width="4" height="1" fill="#fff"/>
<rect x="1021" y="92" width="2" height="1" fill="#fff"/>
<rect x="1021" y="94" width="2" height="1" fill="#fff"/>
<rect x="1021" y="97" width="2" height="1" fill="#fff"/>
<rect x="1021" y="100" width="2" height="1" fill="#fff"/>
<rect x="1021" y="103" width="4" height="1" fill="#fff"/>
<rect x="1021" y="105" width="2" height="1" fill="#fff"/>
<rect x="1021" y="108" width="2" height="1" fill="#fff"/>
<rect x="1021" y="111" width="2" height="1" fill="#fff"/>
<rect x="1021" y="114" width="2" height="1" fill="#fff"/>
<rect x="1021" y="116" width="4" height="1" fill="#fff"/>
<rect x="1021" y="119" width="2" height="1" fill="#fff"/>
<rect x="1021" y="122" width="2" height="1" fill="#fff"/>
<rect x="1021" y="125" width="2" height="1" fill="#fff"/>
<rect x="1021" y="127" width="2" height="1" fill="#fff"/>
<rect x="1021" y="130" width="4" height="1" fill="#fff"/>
<rect x="1021" y="133" width="2" height="1" fill="#fff"/>
<rect x="1021" y="136" width="2" height="1" fill="#fff"/>
<rect x="1021" y="138" width="2" height="1" fill="#fff"/>
<rect x="1021" y="141" width="2" height="1" fill="#fff"/>
<rect x="1021" y="144" width="4" height="1" fill="#fff"/>
<rect x="1021" y="147" width="2" height="1" fill="#fff"/>
<rect x="1021" y="149" width="2" height="1" fill="#fff"/>
<rect x="1021" y="152" width="2" height="1" fill="#fff"/>
<rect x="1021" y="155" width="2" height="1" fill="#fff"/>
<rect x="1021" y="158" width="4" height="1" fill="#fff"/>
<rect x="1021" y="160" width="2" height="1" fill="#fff"/>
<rect x="1021" y="163" width="2" height="1" fill="#fff"/>
<rect x="1021" y="166" width="2" height="1" fill="#fff"/>
<rect x="1021" y="169" width="2" height="1" fill="#fff"/>
<rect x="1021" y="171" width="4" height="1" fill="#fff"/>
<rect x="1021" y="174" width="2" height="1" fill="#fff"/>
<rect x="1021" y="177" width="2" height="1" fill="#fff"/>
<rect x="1021" y="179" width="2" height="1" fill="#fff"/>
<rect x="1021" y="182" width="2" height="1" fill="#fff"/>
<rect x="1021" y="185" width="4" height="1" fill="#fff"/>
<rect x="1021" y="188" width="2" height="1" fill="#fff"/>
<rect x="1021" y="190" width="2" height="1" fill="#fff"/>
<rect x="1021" y="193" width="2" height="1" fill="#fff"/>
<rect x="1021" y="196" width="2" height="1" fill="#fff"/>
<rect x="1021" y="199" width="4" height="1" fill="#fff"/>
<rect x="1021" y="201" width="2" height="1" fill="#fff"/>
<rect x="1021" y="204" width="2" height="1" fill="#fff"/>
<rect x="1021" y="207" width="2" height="1" fill="#fff"/>
<rect x="1021" y="210" width="2" height="1" fill="#fff"/>
<rect x="1021" y="212" width="4" height="1" fill="#fff"/>
<rect x="1021" y="215" width="2" height="1" fill="#fff"/>
<rect x="1021" y="218" width="2" height="1" fill="#fff"/>
<rect x="1021" y="221" width="2" height="1" fill="#fff"/>
<rect x="1021" y="223" width="2" height="1" fill="#fff"/>
<rect x="1021" y="226" width="4" height="1" fill="#fff"/>
<rect x="1021" y="229" width="2" height="1" fill="#fff"/>
<rect x="1021" y="232" width="2" height="1" fill="#fff"/>
<rect x="1021" y="234" width="2" height="1" fill="#fff"/>
<rect x="1021" y="237" width="2" height="1" fill="#fff"/>
<rect x="1021" y="240" width="4" height="1" fill="#fff"/>
<rect x="1021" y="243" width="2" height="1" fill="#fff"/>
<rect x="1021" y="245" width="2" height="1" fill="#fff"/>
<rect x="1021" y="248" width="2" height="1" fill="#fff"/>
<rect x="1021" y="251" width="2" height="1" fill="#fff"/>
<rect x="1021" y="254" width="4" height="1" fill="#fff"/>
<rect x="1021" y="256" width="2" height="1" fill="#fff"/>
<rect x="1021" y="259" width="2" height="1" fill="#fff"/>
<rect x="1021" y="262" width="2" height="1" fill="#fff"/>
<rect x="1021" y="265" width="2" height="1" fill="#fff"/>
<rect x="1021" y="267" width="4" height="1" fill="#fff"/>
<rect x="1021" y="270" width="2" height="1" fill="#fff"/>
<rect x="1021" y="273" width="2" height="1" fill="#fff"/>
<rect x="1021" y="275" width="2" height="1" fill="#fff"/>
<rect x="1021" y="278" width="2" height="1" fill="#fff"/>
<rect x="1021" y="281" width="4" height="1" fill="#fff"/>
<rect x="1021" y="284" width="2" height="1" fill="#fff"/>
<rect x="1021" y="286" width="2" height="1" fill="#fff"/>
<rect x="1021" y="289" width="2" height="1" fill="#fff"/>
<rect x="1021" y="292" width="2" height="1" fill="#fff"/>
<rect x="1021" y="295" width="4" height="1" fill="#fff"/>
<rect x="1021" y="297" width="2" height="1" fill="#fff"/>
<rect x="1021" y="300" width="2" height="1" fill="#fff"/>
<rect x="1021" y="303" width="2" height="1" fill="#fff"/>
<rect x="1021" y="306" width="2" height="1" fill="#fff"/>
<rect x="1021" y="308" width="4" height="1" fill="#fff"/>
<rect x="1021" y="311" width="2" height="1" fill="#fff"/>
<rect x="1021" y="314" width="2" height="1" fill="#fff"/>
<rect x="1021" y="317" width="2" height="1" fill="#fff"/>
<rect x="1021" y="319" width="2" height="1" fill="#fff"/>
<rect x="1021" y="322" width="4" height="1" fill="#fff"/>
<rect x="1021" y="325" width="2" height="1" fill="#fff"/>
<rect x="1021" y="328" width="2" height="1" fill="#fff"/>
<rect x="1021" y="330" width="2" height="1" fill="#fff"/>
<rect x="1021" y="333" width="2" height="1" fill="#fff"/>
<rect x="1021" y="336" width="4" height="1" fill="#fff"/>
<rect x="1021" y="339" width="2" height="1" fill="#fff"/>
<rect x="1021" y="341" width="2" height="1" fill="#fff"/>
<rect x="1021" y="344" width="2" height="1" fill="#fff"/>
<rect x="1021" y="347" width="2" height="1" fill="#fff"/>
<rect x="1021" y="350" width="4" height="1" fill="#fff"/>
<rect x="1021" y="352" width="2" height="1" fill="#fff"/>
<rect x="1021" y="355" width="2" height="1" fill="#fff"/>
<rect x="1021" y="358" width="2" height="1" fill="#fff"/>
<rect x="1021" y="361" width="2" height="1" fill="#fff"/>
<rect x="1021" y="363" width="4" height="1" fill="#fff"/>
<rect x="1021" y="366" width="2" height="1" fill="#fff"/>
<rect x="1021" y="369" width="2" height="1" fill="#fff"/>
<rect x="1021" y="371" width="2" height="1" fill="#fff"/>
<rect x="1021" y="374" width="2" height="1" fill="#fff"/>
<rect x="1021" y="377" width="4" height="1" fill="#fff"/>
<rect x="1021" y="380" width="2" height="1" fill="#fff"/>
<rect x="1021" y="382" width="2" height="1" fill="#fff"/>
<rect x="1021" y="385" width="2" height="1" fill="#fff"/>
<rect x="1021" y="388" width="2" height="1" fill="#fff"/>
<rect x="1021" y="391" width="4" height="1" fill="#fff"/>
<rect x="1021" y="393" width="2" height="1" fill="#fff"/>
<rect x="1021" y="396" width="2" height="1" fill="#fff"/>
<rect x="1021" y="399" width="2" height="1" fill="#fff"/>
<rect x="1021" y="402" width="2" height="1" fill="#fff"/>
<rect x="1021" y="404" width="4" height="1" fill="#fff"/>
<rect x="1021" y="407" width="2" height="1" fill="#fff"/>
<rect x="1021" y="410" width="2" height="1" fill="#fff"/>
<rect x="1021" y="413" width="2" height="1" fill="#fff"/>
<rect x="1021" y="415" width="2" height="1" fill="#fff"/>
<rect x="1021" y="418" width="4" height="1" fill="#fff"/>
<rect x="1021" y="421" width="2" height="1" fill="#fff"/>
<rect x="1021" y="424" width="2" height="1" fill="#fff"/>
<rect x="1021" y="426" width="2" height="1" fill="#fff"/>
<rect x="1021" y="429" width="2" height="1" fill="#fff"/>
<rect x="1021" y="432" width="4" height="1" fill="#fff"/>
<rect x="1021" y="435" width="2" height="1" fill="#fff"/>
<rect x="1021" y="437" width="2" height="1" fill="#fff"/>
<rect x="1021" y="440" width="2" height="1" fill="#fff"/>
<rect x="1021" y="443" width="2" height="1" fill="#fff"/>
<rect x="1021" y="446" width="4" height="1" fill="#fff"/>
<rect x="1021" y="448" width="2" height="1" fill="#fff"/>
<rect x="1021" y="451" width="2" height="1" fill="#fff"/>
<rect x="1021" y="454" width="2" height="1" fill="#fff"/>
<rect x="1021" y="457" width="2" height="1" fill="#fff"/>
<rect x="1021" y="459" width="4" height="1" fill="#fff"/>
<rect x="1021" y="462" width="2" height="1" fill="#fff"/>
<rect x="1021" y="465" width="2" height="1" fill="#fff"/>
<rect x="1021" y="467" width="2" height="1" fill="#fff"/>
<rect x="1021" y="470" width="2" height="1" fill="#fff"/>
<rect x="1021" y="473" width="4" height="1" fill="#fff"/>
<rect x="1021" y="476" width="2" height="1" fill="#fff"/>
<rect x="1021" y="478" width="2" height="1" fill="#fff"/>
<rect x="1021" y="481" width="2" height="1" fill="#fff"/>
<rect x="1021" y="484" width="2" height="1" fill="#fff"/>
<rect x="1021" y="487" width="4" height="1" fill="#fff"/>
<rect x="1021" y="489" width="2" height="1" fill="#fff"/>
<rect x="1021" y="492" width="2" height="1" fill="#fff"/>
<rect x="1021" y="495" width="2" height="1" fill="#fff"/>
<rect x="1021" y="498" width="2" height="1" fill="#fff"/>
<rect x="1021" y="500" width="4" height="1" fill="#fff"/>
<rect x="1021" y="503" width="2" height="1" fill="#fff"/>
<rect x="1021" y="506" width="2" height="1" fill="#fff"/>
<rect x="1021" y="509" width="2" height="1" fill="#fff"/>
<rect x="1021" y="511" width="2" height="1" fill="#fff"/>
<rect x="1021" y="514" width="4" height="1" fill="#fff"/>
<rect x="1021" y="517" width="2" height="1" fill="#fff"/>
<rect x="1021" y="520" width="2" height="1" fill="#fff"/>
<rect x="1021" y="522" width="2" height="1" fill="#fff"/>
<rect x="1021" y="525" width="2" height="1" fill="#fff"/>
<rect x="1021" y="528" width="4" height="1" fill="#fff"/>
<rect x="1021" y="531" width="2" height="1" fill="#fff"/>
<rect x="1021" y="533" width="2" height="1" fill="#fff"/>
<rect x="1021" y="536" width="2" height="1" fill="#fff"/>
<rect x="1021" y="539" width="2" height="1" fill="#fff"/>
<rect x="1021" y="542" width="4" height="1" fill="#fff"/>
<rect x="1021" y="544" width="2" height="1" fill="#fff"/>
<rect x="1021" y="547" width="2" height="1" fill="#fff"/>
<rect x="1021" y="550" width="2" height="1" fill="#fff"/>
<rect x="1021" y="553" width="2" height="1" fill="#fff"/>
<rect x="1021" y="555" width="4" height="1" fill="#fff"/>
<rect x="1021" y="558" width="2" height="1" fill="#fff"/>
<rect x="1021" y="561" width="2" height="1" fill="#fff"/>
<rect x="1021" y="563" width="2" height="1" fill="#fff"/>
<rect x="1021" y="566" width="2" height="1" fill="#fff"/>
<rect x="1021" y="569" width="4" height="1" fill="#fff"/>
<rect x="1021" y="572" width="2" height="1" fill="#fff"/>
<rect x="1021" y="574" width="2" height="1" fill="#fff"/>
<rect x="1021" y="577" width="2" height="1" fill="#fff"/>
<rect x="1021" y="580" width="2" height="1" fill="#fff"/>
<rect x="1021" y="583" width="4" height="1" fill="#fff"/>
<rect x="1021" y="585" width="2" height="1" fill="#fff"/>
<rect x="1021" y="588" width="2" height="1" fill="#fff"/>
<rect x="1021" y="591" width="2" height="1" fill="#fff"/>
<rect x="1021" y="594" width="2" height="1" fill="#fff"/>
<rect x="1021" y="596" width="4" height="1" fill="#fff"/>
<rect x="1021" y="599" width="2" height="1" fill="#fff"/>
<rect x="1021" y="602" width="2" height="1" fill="#fff"/>
<rect x="1021" y="605" width="2" height="1" fill="#fff"/>
<rect x="1021" y="607" width="2" height="1" fill="#fff"/>
<rect x="1021" y="610" width="4" height="1" fill="#fff"/>
<rect x="1021" y="613" width="2" height="1" fill="#fff"/>
<rect x="1021" y="616" width="2" height="1" fill="#fff"/>
<rect x="1021" y="618" width="2" height="1" fill="#fff"/>
<rect x="1021" y="621" width="2" height="1" fill="#fff"/>
<rect x="1021" y="624" width="4" height="1" fill="#fff"/>
<rect x="1021" y="627" width="2" height="1" fill="#fff"/>
<rect x="1021" y="629" width="2" height="1" fill="#fff"/>
<rect x="1021" y="632" width="2" height="1" fill="#fff"/>
<rect x="1021" y="635" width="2" height="1" fill="#fff"/>
<rect x="1021" y="638" width="4" height="1" fill="#fff"/>
<rect x="1021" y="640" width="2" height="1" fill="#fff"/>
<rect x="1021" y="643" width="2" height="1" fill="#fff"/>
<rect x="1021" y="646" width="2" height="1" fill="#fff"/>
<rect x="1021" y="649" width="2" height="1" fill="#fff"/>
<rect x="1021" y="651" width="4" height="1" fill="#fff"/>
<rect x="1021" y="654" width="2" height="1" fill="#fff"/>
<rect x="1021" y="657" width="2" height="1" fill="#fff"/>
<rect x="1021" y="660" width="2" height="1" fill="#fff"/>
<rect x="1021" y="662" width="2" height="1" fill="#fff"/>
<rect x="1021" y="665" width="4" height="1" fill="#fff"/>
<rect x="1021" y="668" width="2" height="1" fill="#fff"/>
<rect x="1021" y="670" width="2" height="1" fill="#fff"/>
<rect x="1021" y="673" width="2" height="1" fill="#fff"/>
<rect x="1021" y="676" width="2" height="1" fill="#fff"/>
<rect x="1021" y="679" width="4" height="1" fill="#fff"/>
<rect x="1021" y="681" width="2" height="1" fill="#fff"/>
<rect x="1021" y="684" width="2" height="1" fill="#fff"/>
<rect x="1021" y="687" width="2" height="1" fill="#fff"/>
<rect x="1021" y="690" width="2" height="1" fill="#fff"/>
<rect x="1021" y="692" width="4" height="1" fill="#fff"/>
<rect x="1021" y="695" width="2" height="1" fill="#fff"/>
<rect x="1021" y="698" width="2" height="1" fill="#fff"/>
<rect x="1021" y="701" width="2" height="1" fill="#fff"/>
<rect x="1021" y="703" width="2" height="1" fill="#fff"/>
<rect x="1021" y="706" width="4" height="1" fill="#fff"/>
<rect x="1021" y="709" width="2" height="1" fill="#fff"/>
<rect x="44" y="713" width="1" height="5" fill="#fff"/>
<rect x="50" y="713" width="1" height="2" fill="#fff"/>
<rect x="66" y="713" width="1" height="5" fill="#fff"/>
<rect x="72" y="713" width="1" height="2" fill="#fff"/>
<rect x="89" y="713" width="1" height="5" fill="#fff"/>
<rect x="95" y="713" width="1" height="2" fill="#fff"/>
<rect x="111" y="713" width="1" height="5" fill="#fff"/>
<rect x="117" y="713" width="1" height="2" fill="#fff"/>
<rect x="134" y="713" width="1" height="5" fill="#fff"/>
<rect x="140" y="713" width="1" height="2" fill="#fff"/>
<rect x="157" y="713" width="1" height="5" fill="#fff"/>
<rect x="163" y="713" width="1" height="2" fill="#fff"/>
<rect x="179" y="713" width="1" height="5" fill="#fff"/>
<rect x="185" y="713" width="1" height="2" fill="#fff"/>
<rect x="221" y="713" width="1" height="5" fill="#fff"/>
<rect x="227" y="713" width="1" height="2" fill="#fff"/>
<rect x="244" y="713" width="1" height="5" fill="#fff"/>
<rect x="250" y="713" width="1" height="2" fill="#fff"/>
<rect x="266" y="713" width="1" height="5" fill="#fff"/>
<rect x="272" y="713" width="1" height="2" fill="#fff"/>
<rect x="289" y="713" width="1" height="5" fill="#fff"/>
<rect x="295" y="713" width="1" height="2" fill="#fff"/>
<rect x="311" y="713" width="1" height="5" fill="#fff"/>
<rect x="317" y="713" width="1" height="2" fill="#fff"/>
<rect x="334" y="713" width="1" height="5" fill="#fff"/>
<rect x="340" y="713" width="1" height="2" fill="#fff"/>
<rect x="379" y="713" width="1" height="5" fill="#fff"/>
<rect x="385" y="713" width="1" height="2" fill="#fff"/>
<rect x="401" y="713" width="1" height="5" fill="#fff"/>
<rect x="407" y="713" width="1" height="2" fill="#fff"/>
<rect x="424" y="713" width="1" height="5" fill="#fff"/>
<rect x="430" y="713" width="1" height="2" fill="#fff"/>
<rect x="446" y="713" width="1" height="5" fill="#fff"/>
<rect x="452" y="713" width="1" height="2" fill="#fff"/>
<rect x="469" y="713" width="1" height="5" fill="#fff"/>
<rect x="475" y="713" width="1" height="2" fill="#fff"/>
<rect x="492" y="713" width="1" height="5" fill="#fff"/>
<rect x="498" y="713" width="1" height="2" fill="#fff"/>
<rect x="514" y="713" width="1" height="5" fill="#fff"/>
<rect x="520" y="713" width="1" height="2" fill="#fff"/>
<rect x="537" y="713" width="1" height="5" fill="#fff"/>
<rect x="543" y="713" width="1" height="2" fill="#fff"/>
<rect x="559" y="713" width="1" height="5" fill="#fff"/>
<rect x="565" y="713" width="1" height="2" fill="#fff"/>
<rect x="582" y="713" width="1" height="5" fill="#fff"/>
<rect x="588" y="713" width="1" height="2" fill="#fff"/>
<rect x="604" y="713" width="1" height="5" fill="#fff"/>
<rect x="610" y="713" width="1" height="2" fill="#fff"/>
<rect x="627" y="713" width="1" height="5" fill="#fff"/>
<rect x="633" y="713" width="1" height="2" fill="#fff"/>
<rect x="649" y="713" width="1" height="5" fill="#fff"/>
<rect x="655" y="713" width="1" height="2" fill="#fff"/>
<rect x="672" y="713" width="1" height="5" fill="#fff"/>
<rect x="678" y="713" width="1" height="2" fill="#fff"/>
<rect x="694" y="713" width="1" height="5" fill="#fff"/>
<rect x="700" y="713" width="1" height="2" fill="#fff"/>
<rect x="717" y="713" width="1" height="5" fill="#fff"/>
<rect x="723" y="713" width="1" height="2" fill="#fff"/>
<rect x="740" y="713" width="1" height="5" fill="#fff"/>
<rect x="746" y="713" width="1" height="2" fill="#fff"/>
<rect x="762" y="713" width="1" height="5" fill="#fff"/>
<rect x="768" y="713" width="1" height="2" fill="#fff"/>
<rect x="785" y="713" width="1" height="5" fill="#fff"/>
<rect x="791" y="713" width="1" height="2" fill="#fff"/>
<rect x="807" y="713" width="1" height="5" fill="#fff"/>
<rect x="813" y="713" width="1" height="2" fill="#fff"/>
<rect x="830" y="713" width="1" height="5" fill="#fff"/>
<rect x="836" y="713" width="1" height="2" fill="#fff"/>
<rect x="5" y="713" width="1" height="2" fill="#fff"/>
<rect x="21" y="713" width="1" height="2" fill="#fff"/>
<rect x="28" y="713" width="1" height="2" fill="#fff"/>
<rect x="198" y="713" width="1" height="2" fill="#fff"/>
<rect x="205" y="713" width="1" height="2" fill="#fff"/>
<rect x="356" y="713" width="1" height="2" fill="#fff"/>
<rect x="363" y="713" width="1" height="2" fill="#fff"/>
</g>
<g id="axis-labels">
<text x="1027.5" y="38.9" font-size="12.2" fill="#fff" text-anchor="start" textLength="24.2" lengthAdjust="spacingAndGlyphs">1580</text>
<text x="1027.5" y="52.9" font-size="12.2" fill="#fff" text-anchor="start" textLength="24.2" lengthAdjust="spacingAndGlyphs">1575</text>
<text x="1027.5" y="66.9" font-size="12.2" fill="#fff" text-anchor="start" textLength="24.2" lengthAdjust="spacingAndGlyphs">1570</text>
<text x="1027.5" y="79.9" font-size="12.2" fill="#fff" text-anchor="start" textLength="24.2" lengthAdjust="spacingAndGlyphs">1565</text>
<text x="1027.5" y="93.9" font-size="12.2" fill="#fff" text-anchor="start" textLength="24.2" lengthAdjust="spacingAndGlyphs">1560</text>
<text x="1027.5" y="107.9" font-size="12.2" fill="#fff" text-anchor="start" textLength="24.2" lengthAdjust="spacingAndGlyphs">1555</text>
<text x="1027.5" y="120.9" font-size="12.2" fill="#fff" text-anchor="start" textLength="24.2" lengthAdjust="spacingAndGlyphs">1550</text>
<text x="1027.5" y="134.9" font-size="12.2" fill="#fff" text-anchor="start" textLength="24.2" lengthAdjust="spacingAndGlyphs">1545</text>
<text x="1027.5" y="148.9" font-size="12.2" fill="#fff" text-anchor="start" textLength="24.2" lengthAdjust="spacingAndGlyphs">1540</text>
<text x="1027.5" y="162.9" font-size="12.2" fill="#fff" text-anchor="start" textLength="24.2" lengthAdjust="spacingAndGlyphs">1535</text>
<text x="1027.5" y="175.9" font-size="12.2" fill="#fff" text-anchor="start" textLength="24.2" lengthAdjust="spacingAndGlyphs">1530</text>
<text x="1027.5" y="189.9" font-size="12.2" fill="#fff" text-anchor="start" textLength="24.2" lengthAdjust="spacingAndGlyphs">1525</text>
<text x="1027.5" y="203.9" font-size="12.2" fill="#fff" text-anchor="start" textLength="24.2" lengthAdjust="spacingAndGlyphs">1520</text>
<text x="1027.5" y="216.9" font-size="12.2" fill="#fff" text-anchor="start" textLength="24.2" lengthAdjust="spacingAndGlyphs">1515</text>
<text x="1027.5" y="230.9" font-size="12.2" fill="#fff" text-anchor="start" textLength="24.2" lengthAdjust="spacingAndGlyphs">1510</text>
<text x="1027.5" y="244.9" font-size="12.2" fill="#fff" text-anchor="start" textLength="24.2" lengthAdjust="spacingAndGlyphs">1505</text>
<text x="1027.5" y="258.9" font-size="12.2" fill="#fff" text-anchor="start" textLength="24.2" lengthAdjust="spacingAndGlyphs">1500</text>
<text x="1027.5" y="271.9" font-size="12.2" fill="#fff" text-anchor="start" textLength="24.2" lengthAdjust="spacingAndGlyphs">1495</text>
<text x="1027.5" y="285.9" font-size="12.2" fill="#fff" text-anchor="start" textLength="24.2" lengthAdjust="spacingAndGlyphs">1490</text>
<text x="1027.5" y="299.9" font-size="12.2" fill="#fff" text-anchor="start" textLength="24.2" lengthAdjust="spacingAndGlyphs">1485</text>
<text x="1027.5" y="312.9" font-size="12.2" fill="#fff" text-anchor="start" textLength="24.2" lengthAdjust="spacingAndGlyphs">1480</text>
<text x="1027.5" y="326.9" font-size="12.2" fill="#fff" text-anchor="start" textLength="24.2" lengthAdjust="spacingAndGlyphs">1475</text>
<text x="1027.5" y="340.9" font-size="12.2" fill="#fff" text-anchor="start" textLength="24.2" lengthAdjust="spacingAndGlyphs">1470</text>
<text x="1027.5" y="354.9" font-size="12.2" fill="#fff" text-anchor="start" textLength="24.2" lengthAdjust="spacingAndGlyphs">1465</text>
<text x="1027.5" y="367.9" font-size="12.2" fill="#fff" text-anchor="start" textLength="24.2" lengthAdjust="spacingAndGlyphs">1460</text>
<text x="1027.5" y="381.9" font-size="12.2" fill="#fff" text-anchor="start" textLength="24.2" lengthAdjust="spacingAndGlyphs">1455</text>
<text x="1027.5" y="395.9" font-size="12.2" fill="#fff" text-anchor="start" textLength="24.2" lengthAdjust="spacingAndGlyphs">1450</text>
<text x="1027.5" y="408.9" font-size="12.2" fill="#fff" text-anchor="start" textLength="24.2" lengthAdjust="spacingAndGlyphs">1445</text>
<text x="1027.5" y="422.9" font-size="12.2" fill="#fff" text-anchor="start" textLength="24.2" lengthAdjust="spacingAndGlyphs">1440</text>
<text x="1027.5" y="436.9" font-size="12.2" fill="#fff" text-anchor="start" textLength="24.2" lengthAdjust="spacingAndGlyphs">1435</text>
<text x="1027.5" y="450.9" font-size="12.2" fill="#fff" text-anchor="start" textLength="24.2" lengthAdjust="spacingAndGlyphs">1430</text>
<text x="1027.5" y="463.9" font-size="12.2" fill="#fff" text-anchor="start" textLength="24.2" lengthAdjust="spacingAndGlyphs">1425</text>
<text x="1027.5" y="477.9" font-size="12.2" fill="#fff" text-anchor="start" textLength="24.2" lengthAdjust="spacingAndGlyphs">1420</text>
<text x="1027.5" y="491.9" font-size="12.2" fill="#fff" text-anchor="start" textLength="24.2" lengthAdjust="spacingAndGlyphs">1415</text>
<text x="1027.5" y="504.9" font-size="12.2" fill="#fff" text-anchor="start" textLength="24.2" lengthAdjust="spacingAndGlyphs">1410</text>
<text x="1027.5" y="518.9" font-size="12.2" fill="#fff" text-anchor="start" textLength="24.2" lengthAdjust="spacingAndGlyphs">1405</text>
<text x="1027.5" y="532.9" font-size="12.2" fill="#fff" text-anchor="start" textLength="24.2" lengthAdjust="spacingAndGlyphs">1400</text>
<text x="1027.5" y="546.9" font-size="12.2" fill="#fff" text-anchor="start" textLength="24.2" lengthAdjust="spacingAndGlyphs">1395</text>
<text x="1027.5" y="559.9" font-size="12.2" fill="#fff" text-anchor="start" textLength="24.2" lengthAdjust="spacingAndGlyphs">1390</text>
<text x="1027.5" y="573.9" font-size="12.2" fill="#fff" text-anchor="start" textLength="24.2" lengthAdjust="spacingAndGlyphs">1385</text>
<text x="1027.5" y="587.9" font-size="12.2" fill="#fff" text-anchor="start" textLength="24.2" lengthAdjust="spacingAndGlyphs">1380</text>
<text x="1027.5" y="600.9" font-size="12.2" fill="#fff" text-anchor="start" textLength="24.2" lengthAdjust="spacingAndGlyphs">1375</text>
<text x="1027.5" y="614.9" font-size="12.2" fill="#fff" text-anchor="start" textLength="24.2" lengthAdjust="spacingAndGlyphs">1370</text>
<text x="1027.5" y="628.9" font-size="12.2" fill="#fff" text-anchor="start" textLength="24.2" lengthAdjust="spacingAndGlyphs">1365</text>
<text x="1027.5" y="642.9" font-size="12.2" fill="#fff" text-anchor="start" textLength="24.2" lengthAdjust="spacingAndGlyphs">1360</text>
<text x="1027.5" y="655.9" font-size="12.2" fill="#fff" text-anchor="start" textLength="24.2" lengthAdjust="spacingAndGlyphs">1355</text>
<text x="1027.5" y="669.9" font-size="12.2" fill="#fff" text-anchor="start" textLength="24.2" lengthAdjust="spacingAndGlyphs">1350</text>
<text x="1027.5" y="683.9" font-size="12.2" fill="#fff" text-anchor="start" textLength="24.2" lengthAdjust="spacingAndGlyphs">1345</text>
<text x="1027.5" y="696.9" font-size="12.2" fill="#fff" text-anchor="start" textLength="24.2" lengthAdjust="spacingAndGlyphs">1340</text>
<text x="1027.5" y="710.9" font-size="12.2" fill="#fff" text-anchor="start" textLength="24.2" lengthAdjust="spacingAndGlyphs">1335</text>
<text x="1023.5" y="12.0" font-size="12.2" fill="#fff" text-anchor="start" textLength="21.5" lengthAdjust="spacingAndGlyphs">USD</text>
<text x="-0.5" y="731.0" font-size="12.2" fill="#fff" text-anchor="start" textLength="27.0" lengthAdjust="spacingAndGlyphs">16:00</text>
<text x="44.9" y="731.0" font-size="12.2" fill="#fff" text-anchor="start" textLength="13.3" lengthAdjust="spacingAndGlyphs">13.</text>
<text x="66.9" y="731.0" font-size="12.2" fill="#fff" text-anchor="start" textLength="13.3" lengthAdjust="spacingAndGlyphs">16.</text>
<text x="89.9" y="731.0" font-size="12.2" fill="#fff" text-anchor="start" textLength="13.3" lengthAdjust="spacingAndGlyphs">17.</text>
<text x="111.9" y="731.0" font-size="12.2" fill="#fff" text-anchor="start" textLength="13.3" lengthAdjust="spacingAndGlyphs">18.</text>
<text x="134.9" y="731.0" font-size="12.2" fill="#fff" text-anchor="start" textLength="13.3" lengthAdjust="spacingAndGlyphs">19.</text>
<text x="157.9" y="731.0" font-size="12.2" fill="#fff" text-anchor="start" textLength="13.3" lengthAdjust="spacingAndGlyphs">20.</text>
<text x="179.9" y="731.0" font-size="12.2" fill="#fff" text-anchor="start" textLength="13.3" lengthAdjust="spacingAndGlyphs">23.</text>
<text x="221.9" y="731.0" font-size="12.2" fill="#fff" text-anchor="start" textLength="13.3" lengthAdjust="spacingAndGlyphs">25.</text>
<text x="244.9" y="731.0" font-size="12.2" fill="#fff" text-anchor="start" textLength="13.3" lengthAdjust="spacingAndGlyphs">26.</text>
<text x="266.9" y="731.0" font-size="12.2" fill="#fff" text-anchor="start" textLength="13.3" lengthAdjust="spacingAndGlyphs">27.</text>
<text x="289.9" y="731.0" font-size="12.2" fill="#fff" text-anchor="start" textLength="13.3" lengthAdjust="spacingAndGlyphs">30.</text>
<text x="311.9" y="731.0" font-size="12.2" fill="#fff" text-anchor="start" textLength="13.3" lengthAdjust="spacingAndGlyphs">31.</text>
<text x="334.9" y="731.0" font-size="12.2" fill="#fff" text-anchor="start" textLength="19.5" lengthAdjust="spacingAndGlyphs">Aug</text>
<text x="379.9" y="731.0" font-size="12.2" fill="#fff" text-anchor="start" textLength="7.8" lengthAdjust="spacingAndGlyphs">3.</text>
<text x="401.9" y="731.0" font-size="12.2" fill="#fff" text-anchor="start" textLength="7.8" lengthAdjust="spacingAndGlyphs">6.</text>
<text x="424.9" y="731.0" font-size="12.2" fill="#fff" text-anchor="start" textLength="7.8" lengthAdjust="spacingAndGlyphs">7.</text>
<text x="446.9" y="731.0" font-size="12.2" fill="#fff" text-anchor="start" textLength="7.8" lengthAdjust="spacingAndGlyphs">8.</text>
<text x="469.9" y="731.0" font-size="12.2" fill="#fff" text-anchor="start" textLength="7.8" lengthAdjust="spacingAndGlyphs">9.</text>
<text x="492.9" y="731.0" font-size="12.2" fill="#fff" text-anchor="start" textLength="13.3" lengthAdjust="spacingAndGlyphs">10.</text>
<text x="514.9" y="731.0" font-size="12.2" fill="#fff" text-anchor="start" textLength="13.3" lengthAdjust="spacingAndGlyphs">13.</text>
<text x="537.9" y="731.0" font-size="12.2" fill="#fff" text-anchor="start" textLength="13.3" lengthAdjust="spacingAndGlyphs">14.</text>
<text x="559.9" y="731.0" font-size="12.2" fill="#fff" text-anchor="start" textLength="13.3" lengthAdjust="spacingAndGlyphs">15.</text>
<text x="582.9" y="731.0" font-size="12.2" fill="#fff" text-anchor="start" textLength="13.3" lengthAdjust="spacingAndGlyphs">16.</text>
<text x="604.9" y="731.0" font-size="12.2" fill="#fff" text-anchor="start" textLength="13.3" lengthAdjust="spacingAndGlyphs">17.</text>
<text x="627.9" y="731.0" font-size="12.2" fill="#fff" text-anchor="start" textLength="13.3" lengthAdjust="spacingAndGlyphs">20.</text>
<text x="649.9" y="731.0" font-size="12.2" fill="#fff" text-anchor="start" textLength="13.3" lengthAdjust="spacingAndGlyphs">21.</text>
<text x="672.9" y="731.0" font-size="12.2" fill="#fff" text-anchor="start" textLength="13.3" lengthAdjust="spacingAndGlyphs">22.</text>
<text x="694.9" y="731.0" font-size="12.2" fill="#fff" text-anchor="start" textLength="13.3" lengthAdjust="spacingAndGlyphs">23.</text>
<text x="717.9" y="731.0" font-size="12.2" fill="#fff" text-anchor="start" textLength="13.3" lengthAdjust="spacingAndGlyphs">24.</text>
<text x="740.9" y="731.0" font-size="12.2" fill="#fff" text-anchor="start" textLength="13.3" lengthAdjust="spacingAndGlyphs">27.</text>
<text x="762.9" y="731.0" font-size="12.2" fill="#fff" text-anchor="start" textLength="13.3" lengthAdjust="spacingAndGlyphs">28.</text>
<text x="785.9" y="731.0" font-size="12.2" fill="#fff" text-anchor="start" textLength="13.3" lengthAdjust="spacingAndGlyphs">29.</text>
<text x="807.9" y="731.0" font-size="12.2" fill="#fff" text-anchor="start" textLength="13.3" lengthAdjust="spacingAndGlyphs">30.</text>
<text x="830.9" y="731.0" font-size="12.2" fill="#fff" text-anchor="start" textLength="13.3" lengthAdjust="spacingAndGlyphs">31.</text>
</g>
<rect x="1021" y="322" width="49" height="14" fill="#ffffe1" shape-rendering="crispEdges"/>
<text x="1028.5" y="333.3" font-size="12.2" fill="#000" text-anchor="start" textLength="44.0" lengthAdjust="spacingAndGlyphs">1472,569</text>
<g id="labels">
<text x="1.8" y="11.2" font-size="10" fill="#ffffff" text-anchor="start" textLength="8.0" lengthAdjust="spacingAndGlyphs">©</text>
<text x="13.3" y="13.5" font-size="12.2" fill="#ffffff" text-anchor="start" textLength="101.0" lengthAdjust="spacingAndGlyphs">www.tradesignal.com</text>
<text x="0.5" y="115.0" font-size="12.2" fill="#8c8c8c" text-anchor="start" textLength="88.5" lengthAdjust="spacingAndGlyphs">0,00% - 1555,3325</text>
<text x="331.5" y="115.0" font-size="12.2" fill="#8c8c8c" text-anchor="start" textLength="100.5" lengthAdjust="spacingAndGlyphs">100,00% - 1555,1803</text>
<text x="331.5" y="249.0" font-size="12.2" fill="#8c8c8c" text-anchor="start" textLength="94.5" lengthAdjust="spacingAndGlyphs">61,80% - 1506,3898</text>
<text x="331.5" y="465.0" font-size="12.2" fill="#8c8c8c" text-anchor="start" textLength="88.5" lengthAdjust="spacingAndGlyphs">0,00% - 1427,4564</text>
<text x="0.5" y="467.0" font-size="12.2" fill="#8c8c8c" text-anchor="start" textLength="100.5" lengthAdjust="spacingAndGlyphs">100,00% - 1426,7557</text>
<text x="13.5" y="512.0" font-size="12.2" fill="#8c8c8c" text-anchor="start" textLength="49.5" lengthAdjust="spacingAndGlyphs">1405,1511</text>
<text x="13.5" y="559.0" font-size="12.2" fill="#8c8c8c" text-anchor="start" textLength="49.5" lengthAdjust="spacingAndGlyphs">1388,1826</text>
<text x="0.5" y="602.0" font-size="12.2" fill="#8c8c8c" text-anchor="start" textLength="100.5" lengthAdjust="spacingAndGlyphs">138,20% - 1377,6394</text>
<text x="0.5" y="685.0" font-size="12.2" fill="#8c8c8c" text-anchor="start" textLength="100.5" lengthAdjust="spacingAndGlyphs">161,80% - 1347,2953</text>
<text x="882.5" y="18.0" font-size="13.5" fill="#c4c4c4" text-anchor="start" font-weight="bold">i'</text>
<text x="882.5" y="38.5" font-size="13.5" fill="#c4c4c4" text-anchor="start" font-weight="bold">ii'</text>
<text x="882.5" y="58.5" font-size="13.5" fill="#c4c4c4" text-anchor="start" font-weight="bold">iii'</text>
<text x="882.5" y="75.5" font-size="13.5" fill="#c4c4c4" text-anchor="start" font-weight="bold">iv'</text>
<text x="882.5" y="92.0" font-size="13.5" fill="#c4c4c4" text-anchor="start" font-weight="bold">v'</text>
<text x="913.6" y="20.0" font-size="14" fill="#ff7f3f" text-anchor="start" textLength="41.5" lengthAdjust="spacingAndGlyphs">ALT a</text>
<text x="913.6" y="40.0" font-size="14" fill="#ff7f3f" text-anchor="start" textLength="41.5" lengthAdjust="spacingAndGlyphs">ALT b</text>
<text x="200.3" y="122.8" font-size="15.5" fill="#c4c4c4" text-anchor="start" textLength="7.6" lengthAdjust="spacingAndGlyphs" font-weight="bold">ii</text>
<text x="164.6" y="194.7" font-size="15" fill="#c4c4c4" text-anchor="start" textLength="3.9" lengthAdjust="spacingAndGlyphs" font-weight="bold">i</text>
<text x="236.5" y="187.3" font-size="13.5" fill="#c4c4c4" text-anchor="start" font-weight="bold">ii'</text>
<text x="221.0" y="258.5" font-size="13.5" fill="#c4c4c4" text-anchor="start" font-weight="bold">i'</text>
<text x="316.5" y="285.0" font-size="13.5" fill="#c4c4c4" text-anchor="start" font-weight="bold">iv'</text>
<text x="284.5" y="395.8" font-size="13.5" fill="#c4c4c4" text-anchor="start" font-weight="bold">iii'</text>
<text x="348.9" y="433.7" font-size="14.5" fill="#c4c4c4" text-anchor="start" font-weight="bold">v'</text>
<text x="349.0" y="451.0" font-size="14" fill="#ffffff" text-anchor="start" font-weight="bold">iii</text>
<text x="371.4" y="307.0" font-size="15" fill="#ffffff" text-anchor="start" textLength="12.2" lengthAdjust="spacingAndGlyphs" font-weight="bold">iv</text>
<text x="419.3" y="318.1" font-size="13.5" fill="#c4c4c4" text-anchor="start" font-weight="bold">w</text>
<text x="435.5" y="388.1" font-size="13.5" fill="#c4c4c4" text-anchor="start" font-weight="bold">x</text>
<text x="403.0" y="478.6" font-size="15.5" fill="#ffffff" text-anchor="start" font-weight="bold">v</text>
<text x="396.9" y="498.9" font-size="17.5" fill="#ffffff" text-anchor="start" textLength="22.0" lengthAdjust="spacingAndGlyphs">(a)</text>
<text x="447.8" y="213.0" font-size="17.5" fill="#ffffff" text-anchor="start" textLength="22.0" lengthAdjust="spacingAndGlyphs">(b)</text>
<text x="454.5" y="234.3" font-size="14" fill="#c4c4c4" text-anchor="start" font-weight="bold">y</text>
<text x="471.5" y="250.2" font-size="13.5" fill="#c4c4c4" text-anchor="start" font-weight="bold">ii'</text>
<text x="458.5" y="327.7" font-size="13.5" fill="#c4c4c4" text-anchor="start" font-weight="bold">i'</text>
<text x="497.8" y="348.8" font-size="12.5" fill="#c4c4c4" text-anchor="start" font-weight="bold">a</text>
<text x="522.5" y="336.9" font-size="12.5" fill="#c4c4c4" text-anchor="start" font-weight="bold">c</text>
<text x="507.0" y="430.5" font-size="12.5" fill="#c4c4c4" text-anchor="start" font-weight="bold">b</text>
<text x="520.0" y="325.6" font-size="13.5" fill="#c4c4c4" text-anchor="start" font-weight="bold">iv'</text>
<text x="535.4" y="355.6" font-size="14.5" fill="#ff7f3f" text-anchor="start" font-weight="bold">ii''</text>
<text x="519.4" y="390.7" font-size="14.5" fill="#ff7f3f" text-anchor="start" font-weight="bold">i''</text>
<text x="567.9" y="407.4" font-size="14.5" fill="#ff7f3f" text-anchor="start" font-weight="bold">iv''</text>
<text x="550.9" y="489.4" font-size="14.5" fill="#ff7f3f" text-anchor="start" font-weight="bold">iii''</text>
<text x="491.0" y="465.3" font-size="13.5" fill="#c4c4c4" text-anchor="start" font-weight="bold">iii'</text>
<text x="600.5" y="377.7" font-size="13.5" fill="#c4c4c4" text-anchor="start" font-weight="bold">iii'</text>
<text x="659.0" y="428.8" font-size="13.5" fill="#c4c4c4" text-anchor="start" font-weight="bold">iv'</text>
<text x="590.5" y="506.1" font-size="13.5" fill="#c4c4c4" text-anchor="start" font-weight="bold">i'</text>
<text x="596.0" y="606.6" font-size="13.5" fill="#c4c4c4" text-anchor="start" font-weight="bold">ii'</text>
<text x="586.3" y="627.8" font-size="14.5" fill="#ff7f3f" text-anchor="start" textLength="17.0" lengthAdjust="spacingAndGlyphs" font-weight="bold">v''</text>
<text x="584.2" y="649.6" font-size="17.5" fill="#ffffff" text-anchor="start" textLength="21.0" lengthAdjust="spacingAndGlyphs">(c)</text>
<text x="729.3" y="259.0" font-size="19" fill="#ffff00" text-anchor="start" textLength="75.0" lengthAdjust="spacingAndGlyphs" font-weight="bold">neck line</text>
<text x="735.0" y="280.0" font-size="17" fill="#ffffff" text-anchor="start" textLength="40.0" lengthAdjust="spacingAndGlyphs">i or a</text>
<text x="748.0" y="296.0" font-size="13.5" fill="#c4c4c4" text-anchor="start" font-weight="bold">v'</text>
<text x="755.0" y="322.5" font-size="13.5" fill="#c4c4c4" text-anchor="start" font-weight="bold">ii'</text>
<text x="742.0" y="360.7" font-size="13.5" fill="#c4c4c4" text-anchor="start" font-weight="bold">i'</text>
<text x="770.3" y="379.4" font-size="13.5" fill="#c4c4c4" text-anchor="start" font-weight="bold">iv'</text>
<text x="758.3" y="414.5" font-size="13.5" fill="#c4c4c4" text-anchor="start" font-weight="bold">iii'</text>
<text x="780.0" y="451.0" font-size="13.5" fill="#c4c4c4" text-anchor="start" font-weight="bold">v'</text>
<text x="780.5" y="462.0" font-size="12.5" fill="#ffffff" text-anchor="start" font-weight="bold">a</text>
<text x="795.5" y="342.6" font-size="13.5" fill="#8e8e8e" text-anchor="start" font-weight="bold">w</text>
<text x="824.5" y="394.1" font-size="13.5" fill="#8e8e8e" text-anchor="start" font-weight="bold">x</text>
<text x="848.5" y="281.7" font-size="13" fill="#ffffff" text-anchor="start" font-weight="bold">b</text>
<text x="847.5" y="297.0" font-size="14" fill="#c4c4c4" text-anchor="start" font-weight="bold">y</text>
<text x="872.0" y="398.8" font-size="13" fill="#ffffff" text-anchor="start" font-weight="bold">c</text>
<text x="856.0" y="417.0" font-size="17" fill="#ffffff" text-anchor="start" textLength="43.0" lengthAdjust="spacingAndGlyphs">ii or b</text>
</g>
<g id="title" fill="none" stroke="#fff" stroke-width="1.7" stroke-linecap="square" stroke-linejoin="round"><path d="M482.5 49.5 C481 46.5 478.5 45.8 476.5 45.8 C473 45.8 470.8 48 470.8 51 C470.8 54.5 473.5 56 476.5 57.5 C480 59.3 482.3 61 482.3 64.8 C482.3 68.5 479.8 70.3 476.8 70.3 C474 70.3 472 69 471.2 67"/><path d="M488 70.5 V45.8 H494.5 C498.5 45.8 499.6 48.5 499.6 52 C499.6 55.5 498.5 58.3 494.5 58.3 H488"/><path d="M505 47 L515.3 69.4 M515.3 47 L505 69.4"/></g>
</svg>
</body></html>
